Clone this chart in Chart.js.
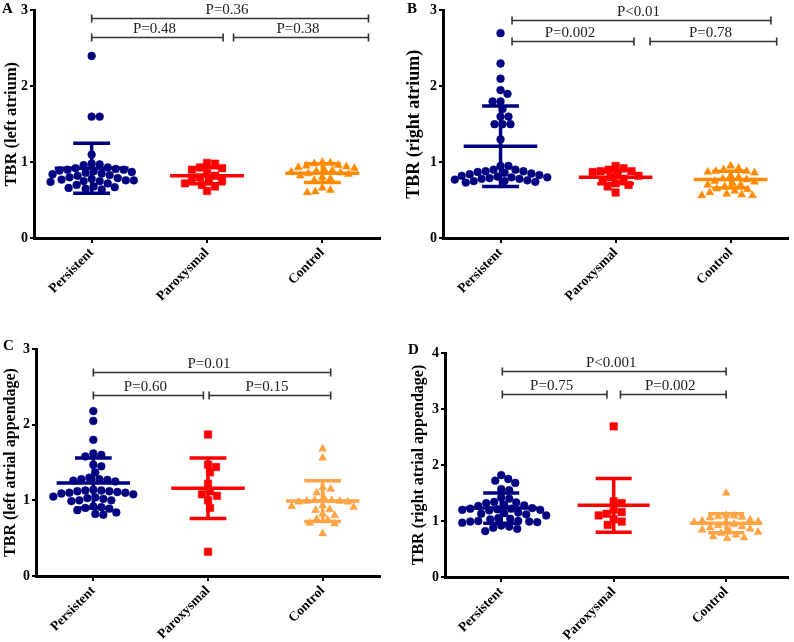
<!DOCTYPE html>
<html>
<head>
<meta charset="utf-8">
<script src="https://cdn.jsdelivr.net/npm/chart.js@4"></script>
<style>
  body { margin: 0; background: #fff; }
  .panel { position: absolute; width: 397px; height: 321px; }
</style>
</head>
<body>
<div class="panel" style="left:0;top:0"><canvas id="chartA"></canvas></div>
<div class="panel" style="left:397px;top:0"><canvas id="chartB"></canvas></div>
<div class="panel" style="left:0;top:321px"><canvas id="chartC"></canvas></div>
<div class="panel" style="left:397px;top:321px"><canvas id="chartD"></canvas></div>
<script>
const groups = ['Persistent', 'Paroxysmal', 'Control'];

// A - left atrium
const laPersistent = [2.4, 1.6, 1.6, 1.1, 0.98, 0.97, 0.96, 0.93, 0.92, 0.91, 0.9, 0.9, 0.89, 0.88, 0.87, 0.86, 0.85,
  0.84, 0.83, 0.82, 0.8, 0.79, 0.78, 0.77, 0.76, 0.76, 0.75, 0.75, 0.74, 0.72, 0.7, 0.68, 0.67, 0.66, 0.65, 0.64];
const laParoxysmal = [0.99, 0.98, 0.93, 0.92, 0.9, 0.85, 0.82, 0.8, 0.78, 0.76, 0.75, 0.72, 0.7, 0.68, 0.62];
const laControl = [1.0, 0.99, 0.98, 0.96, 0.95, 0.94, 0.93, 0.92, 0.9, 0.89, 0.88, 0.87, 0.86, 0.85, 0.84, 0.82,
  0.8, 0.78, 0.76, 0.66, 0.63, 0.61, 0.6];
const laMean = [0.92, 0.82, 0.855];
const laSD = [0.33, 0.105, 0.125];
const laP = ['P=0.36', 'P=0.48', 'P=0.38'];

// B - right atrium
const raPersistent = [2.7, 2.3, 2.1, 1.95, 1.9, 1.8, 1.8, 1.7, 1.6, 1.6, 1.5, 1.5, 1.5, 1.3, 0.95, 0.95, 0.9, 0.9, 0.88,
  0.88, 0.87, 0.86, 0.85, 0.84, 0.83, 0.82, 0.81, 0.8, 0.8, 0.79, 0.78, 0.78, 0.77, 0.76, 0.75, 0.75, 0.74, 0.73];
const raParoxysmal = [0.95, 0.92, 0.9, 0.88, 0.88, 0.87, 0.85, 0.82, 0.8, 0.78, 0.76, 0.72, 0.7, 0.68, 0.6];
const raControl = [0.95, 0.92, 0.9, 0.88, 0.88, 0.87, 0.86, 0.82, 0.8, 0.78, 0.77, 0.75, 0.74, 0.72, 0.7, 0.7, 0.68,
  0.65, 0.64, 0.62, 0.6, 0.58, 0.57, 0.56, 0.56];
const raMean = [1.21, 0.8, 0.77];
const raSD = [0.53, 0.085, 0.11];
const raP = ['P<0.01', 'P=0.002', 'P=0.78'];

// C - left atrial appendage
const laaPersistent = [2.18, 2.05, 1.8, 1.62, 1.6, 1.58, 1.47, 1.45, 1.37, 1.3, 1.28, 1.28, 1.27, 1.26, 1.25, 1.14, 1.13,
  1.13, 1.12, 1.12, 1.11, 1.1, 1.1, 1.09, 1.08, 1.05, 1.04, 1.03, 1.02, 1.0, 1.0, 0.99, 0.92, 0.91, 0.9, 0.89, 0.87,
  0.84, 0.82, 0.81];
const laaParoxysmal = [1.87, 1.47, 1.44, 1.37, 1.22, 1.12, 1.08, 1.06, 1.0, 0.9, 0.32];
const laaControl = [1.68, 1.56, 1.17, 1.15, 1.1, 1.04, 1.0, 1.0, 0.99, 0.99, 0.98, 0.98, 0.93, 0.92, 0.91, 0.88, 0.87,
  0.82, 0.8, 0.75, 0.74, 0.7, 0.69, 0.56];
const laaMean = [1.23, 1.16, 0.99];
const laaSD = [0.33, 0.4, 0.27];
const laaP = ['P=0.01', 'P=0.60', 'P=0.15'];

// D - right atrial appendage
const raaPersistent = [1.82, 1.75, 1.72, 1.68, 1.57, 1.55, 1.42, 1.4, 1.34, 1.33, 1.32, 1.29, 1.28, 1.27, 1.23, 1.22,
  1.22, 1.21, 1.2, 1.2, 1.19, 1.15, 1.14, 1.13, 1.12, 1.1, 1.05, 1.04, 1.03, 1.0, 1.0, 0.99, 0.99, 0.98, 0.97, 0.92,
  0.9, 0.88, 0.86, 0.82];
const raaParoxysmal = [2.69, 1.35, 1.32, 1.2, 1.16, 1.13, 1.1, 1.03, 0.99, 0.93];
const raaControl = [1.5, 1.1, 1.09, 1.08, 1.07, 1.06, 1.02, 1.0, 0.99, 0.98, 0.96, 0.94, 0.92, 0.9, 0.88, 0.86, 0.84,
  0.83, 0.8, 0.78, 0.75, 0.72, 0.7, 0.69];
const raaMean = [1.23, 1.28, 0.96];
const raaSD = [0.27, 0.48, 0.17];
const raaP = ['P<0.001', 'P=0.75', 'P=0.002'];

const ticks0to3 = [0, 1, 2, 3];
const ticks0to4 = [0, 1, 2, 3, 4];

const serif = '"Liberation Serif", "Times New Roman", serif';
const navy = '#000080';
const red = '#ff0000';
const orangeDark = '#ff8a00';
const orangeLight = '#ffa445';

// simple beeswarm: spread points sideways so they don't overlap (pixel estimates)
function swarm(values, center, pxX, pxY, size) {
  const placed = [];
  return values.slice().sort((a, b) => b - a).map(v => {
    const py = v * pxY;
    let off = 0;
    for (let k = 0; k < 400; k++) {
      const cand = (k % 2 ? 1 : -1) * Math.ceil(k / 2);
      const hit = placed.some(p => (p.x - cand) ** 2 + (p.y - py) ** 2 < size * size);
      if (!hit) { off = cand; break; }
    }
    placed.push({ x: off, y: py });
    return { x: center + off / pxX, y: v };
  });
}

const sdPlugin = {
  id: 'sdBars',
  afterDatasetsDraw(chart, args, opts) {
    const { ctx, scales: { x, y } } = chart;
    ctx.save();
    ctx.lineWidth = 3.5;
    opts.mean.forEach((m, i) => {
      const cx = i + 1;
      ctx.strokeStyle = opts.colors[i];
      ctx.beginPath();
      ctx.moveTo(x.getPixelForValue(cx - 0.32), y.getPixelForValue(m));
      ctx.lineTo(x.getPixelForValue(cx + 0.32), y.getPixelForValue(m));
      [m + opts.sd[i], m - opts.sd[i]].forEach(v => {
        ctx.moveTo(x.getPixelForValue(cx - 0.16), y.getPixelForValue(v));
        ctx.lineTo(x.getPixelForValue(cx + 0.16), y.getPixelForValue(v));
      });
      ctx.moveTo(x.getPixelForValue(cx), y.getPixelForValue(m + opts.sd[i]));
      ctx.lineTo(x.getPixelForValue(cx), y.getPixelForValue(m - opts.sd[i]));
      ctx.stroke();
    });
    ctx.restore();
  }
};

const bracketPlugin = {
  id: 'brackets',
  afterDraw(chart, args, opts) {
    const { ctx, scales: { x, y } } = chart;
    ctx.save();
    ctx.strokeStyle = '#333';
    ctx.fillStyle = '#222';
    ctx.lineWidth = 1.6;
    ctx.font = '15px ' + serif;
    ctx.textAlign = 'center';
    opts.pos.forEach((b, i) => {
      const x1 = x.getPixelForValue(b[0]);
      const x2 = x.getPixelForValue(b[1]);
      const py = Math.round(y.getPixelForValue(b[2])) + 0.5;
      ctx.beginPath();
      ctx.moveTo(x1, py); ctx.lineTo(x2, py);
      ctx.moveTo(x1, py - 4); ctx.lineTo(x1, py + 4);
      ctx.moveTo(x2, py - 4); ctx.lineTo(x2, py + 4);
      ctx.stroke();
      ctx.fillText(opts.labels[i], (x1 + x2) / 2 - 3, py - 4.5);
    });
    ctx.fillStyle = '#000';
    ctx.textAlign = 'left';
    ctx.font = 'bold 15px ' + serif;
    ctx.fillText(opts.letter, opts.letterAt[0], opts.letterAt[1]);
    ctx.restore();
  }
};

function makePanel(id, cfg) {
  const styles = ['circle', 'rect', 'triangle'];
  const radii = [3.9, 5.3, 4.6];
  const datasets = cfg.series.map((vals, i) => ({
    data: swarm(vals, i + 1, cfg.pxX, cfg.pxY, 7.8),
    pointStyle: styles[i],
    pointRadius: radii[i],
    backgroundColor: cfg.colors[i],
    borderColor: cfg.colors[i],
    borderWidth: 0.5,
    showLine: false
  }));

  return new Chart(document.getElementById(id), {
    type: 'scatter',
    data: { datasets },
    options: {
      responsive: true,
      maintainAspectRatio: false,
      animation: false,
      layout: { padding: cfg.pad },
      scales: {
        x: {
          type: 'linear',
          min: 0.5, max: cfg.xMax,
          afterBuildTicks: s => { s.ticks = groups.map((g, i) => ({ value: i + 1 })); },
          afterFit: s => { s.height = cfg.xHeight; },
          ticks: {
            callback: (v, i) => groups[i],
            minRotation: 45, maxRotation: 45, autoSkip: false,
            color: '#000', padding: 2,
            font: { family: serif, size: 13.5, weight: 'bold' }
          },
          grid: { drawOnChartArea: false, tickLength: 5, color: '#000', lineWidth: 2 },
          border: { color: '#000', width: 3 }
        },
        y: {
          min: 0, max: cfg.yMax,
          afterBuildTicks: s => { s.ticks = cfg.yTicks.map(v => ({ value: v })); },
          afterFit: s => { s.width = cfg.yWidth; },
          ticks: { color: '#000', padding: 2, font: { family: serif, size: 14, weight: 'bold' } },
          title: {
            display: true, text: cfg.yTitle, color: '#000', padding: 0,
            font: { family: serif, size: cfg.titleSize, weight: 'bold' }
          },
          grid: { drawOnChartArea: false, tickLength: 4, color: '#000', lineWidth: 2 },
          border: { color: '#000', width: 3 }
        }
      },
      plugins: {
        legend: { display: false },
        tooltip: { enabled: false },
        sdBars: { mean: cfg.mean, sd: cfg.sd, colors: cfg.colors },
        brackets: { pos: cfg.brackets, labels: cfg.pLabels, letter: cfg.letter, letterAt: cfg.letterAt }
      }
    },
    plugins: [sdPlugin, bracketPlugin]
  });
}

makePanel('chartA', {
  series: [laPersistent, laParoxysmal, laControl], mean: laMean, sd: laSD, pLabels: laP,
  colors: [navy, red, orangeDark], yTitle: 'TBR (left atrium)', yMax: 3, yTicks: ticks0to3,
  xMax: 3.5, pxX: 115, pxY: 76.3, titleSize: 16.5,
  pad: { left: 2, right: 17, top: 9, bottom: 0 }, yWidth: 32, xHeight: 83,
  brackets: [[1, 3.4, 2.9], [1, 2.14, 2.65], [2.23, 3.4, 2.65]],
  letter: 'A', letterAt: [2, 13]
});

makePanel('chartB', {
  series: [raPersistent, raParoxysmal, raControl], mean: raMean, sd: raSD, pLabels: raP,
  colors: [navy, red, orangeDark], yTitle: 'TBR (right atrium)', yMax: 3, yTicks: ticks0to3,
  xMax: 3.5, pxX: 115.7, pxY: 77.2, titleSize: 18,
  pad: { left: 7, right: 4, top: 7, bottom: 0 }, yWidth: 39, xHeight: 83,
  brackets: [[1.1, 3.35, 2.88], [1.1, 2.16, 2.6], [2.3, 3.4, 2.6]],
  letter: 'B', letterAt: [10, 13]
});

makePanel('chartC', {
  series: [laaPersistent, laaParoxysmal, laaControl], mean: laaMean, sd: laaSD, pLabels: laaP,
  colors: [navy, red, orangeLight], yTitle: 'TBR (left atrial appendage)', yMax: 3, yTicks: ticks0to3,
  xMax: 3.5, pxX: 114.7, pxY: 75.7, titleSize: 16,
  pad: { left: 1, right: 17, top: 28, bottom: 0 }, yWidth: 35, xHeight: 66,
  brackets: [[1, 3.07, 2.69], [1, 1.96, 2.39], [2.01, 3.07, 2.39]],
  letter: 'C', letterAt: [3, 29]
});

makePanel('chartD', {
  series: [raaPersistent, raaParoxysmal, raaControl], mean: raaMean, sd: raaSD, pLabels: raaP,
  colors: [navy, red, orangeLight], yTitle: 'TBR (right atrial appendage)', yMax: 4, yTicks: ticks0to4,
  xMax: 3.55, pxX: 112.5, pxY: 55.9, titleSize: 16,
  pad: { left: 12, right: 6, top: 32, bottom: 0 }, yWidth: 36, xHeight: 65,
  brackets: [[1.01, 3.0, 3.67], [1.01, 1.94, 3.27], [2.06, 3.0, 3.27]],
  letter: 'D', letterAt: [11, 33]
});
</script>
</body>
</html>
